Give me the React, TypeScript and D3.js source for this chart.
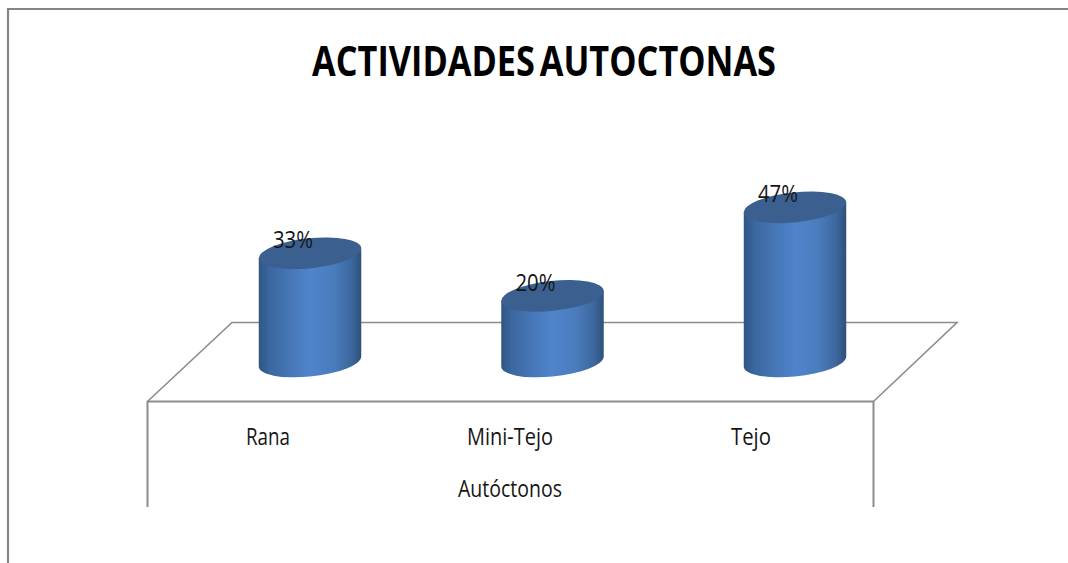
import React from "react";
import * as d3 from "d3";

const titleText = "ACTIVIDADES AUTOCTONAS";
const axisTitle = "Autóctonos";
const categories = ["Rana", "Mini-Tejo", "Tejo"];
const percentValues = [33, 20, 47];
const percentLabels = ["33%", "20%", "47%"];

const W = 1068, H = 563;
const FONT = "'Open Sans', 'Noto Sans', sans-serif";
const LINE = "#8c8c8c";

export default function App() {
  const x = d3.scaleBand<string>().domain(categories).range([188.75, 916.25]).paddingInner(0.58).paddingOuter(0.29);
  const y = d3.scaleLinear().domain([0, 100]).range([361.5, 33.5]);
  const rx = 51.5, ry = 15, deg = -6, th = (deg * Math.PI) / 180;
  const hw = Math.sqrt(rx * rx * Math.cos(th) ** 2 + ry * ry * Math.sin(th) ** 2);
  const dy = ((rx * rx - ry * ry) * Math.sin(th) * Math.cos(th)) / hw;
  return (
    <svg width={W} height={H} style={{ position: "absolute", left: 0, top: 0, background: "#fff" }}>
      <defs>
        <linearGradient id="cyl" x1="0" x2="1" y1="0" y2="0">
          <stop offset="0" stopColor="#2f5583" />
          <stop offset="0.1" stopColor="#3a679e" />
          <stop offset="0.3" stopColor="#4676b6" />
          <stop offset="0.5" stopColor="#5084cb" />
          <stop offset="0.72" stopColor="#4a7dbd" />
          <stop offset="0.9" stopColor="#3d689f" />
          <stop offset="1" stopColor="#2e507a" />
        </linearGradient>
        <filter id="soft" x="-5%" y="-5%" width="110%" height="110%">
          <feGaussianBlur stdDeviation="0.5" />
        </filter>
      </defs>
      <g fill="none" stroke={LINE} strokeWidth={2}>
        <path d="M8,563V9H1068" stroke="#858585" strokeWidth={2.2} />
        <path d="M147.5,507V401.5H873.5V507" />
        <path d="M148,401L232,322.5H957L874,401" strokeWidth={1.6} />
      </g>
      {categories.map((c, i) => {
        const cx = x(c)! + x.bandwidth() / 2;
        const top = y(percentValues[i]);
        const base = y(0);
        const d = `M${cx - hw},${top - dy}L${cx - hw},${base - dy}A${rx},${ry} ${deg} 0 0 ${cx + hw},${base + dy}L${cx + hw},${top + dy}Z`;
        return (
          <g key={c} filter="url(#soft)">
            <path d={d} fill="url(#cyl)" />
            <ellipse cx={cx} cy={top} rx={rx} ry={ry} transform={`rotate(${deg} ${cx} ${top})`} fill="#3b6190" />
          </g>
        );
      })}
      <g fontFamily={FONT} fill="#161616" fontSize={24}>
        {categories.map((c, i) => {
          const cx = x(c)! + x.bandwidth() / 2;
          return (
            <text key={c} x={cx - 17} y={y(percentValues[i]) - 5} textAnchor="middle" textLength={40} lengthAdjust="spacingAndGlyphs">
              {percentLabels[i]}
            </text>
          );
        })}
        {categories.map((c, i) => (
          <text key={c} x={[268, 510, 751][i]} y={445} textAnchor="middle" textLength={[44, 86, 40][i]} lengthAdjust="spacingAndGlyphs">
            {c}
          </text>
        ))}
        <text x={510} y={497} textAnchor="middle" textLength={104} lengthAdjust="spacingAndGlyphs">{axisTitle}</text>
      </g>
      <text x={544} y={76} textAnchor="middle" fontFamily={FONT} fontWeight={700} fontSize={42} fill="#000" wordSpacing={-5} textLength={464} lengthAdjust="spacingAndGlyphs">
        {titleText}
      </text>
    </svg>
  );
}
